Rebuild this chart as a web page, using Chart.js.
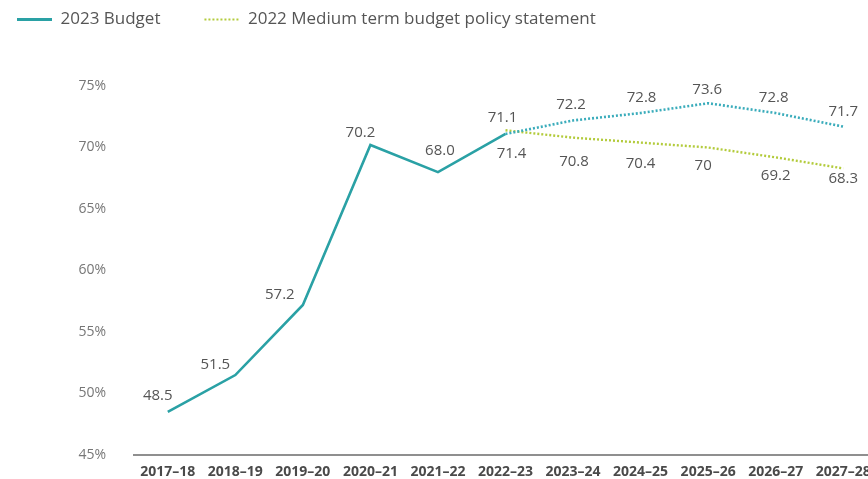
<!DOCTYPE html>
<html><head><meta charset="utf-8">
<script src="https://cdn.jsdelivr.net/npm/chart.js@4.4.1/dist/chart.umd.min.js"></script>
<style>
html,body{margin:0;padding:0;background:#fff;overflow:hidden;width:868px;height:479px;}
#wrap{position:absolute;left:0;top:0;width:877px;height:479px;}
</style></head><body>
<div id="wrap"><canvas id="c"></canvas></div>
<script>
const categories = ['2017–18','2018–19','2019–20','2020–21','2021–22','2022–23','2023–24','2024–25','2025–26','2026–27','2027–28'];
const budget2023 = [48.5, 51.5, 57.2, 70.2, 68.0, 71.1, 72.2, 72.8, 73.6, 72.8, 71.7];
const mtbps2022 = [null, null, null, null, null, 71.4, 70.8, 70.4, 70, 69.2, 68.3];
const yTicks = [45, 50, 55, 60, 65, 70, 75];
const seriesNames = ['2023 Budget', '2022 Medium term budget policy statement'];

const TEAL = '#2aa1a5';
const TEAL_DOT = '#3aacbb';
const GREEN = '#b3cb3c';
const PROJ_START = 5;

const labelOffsets = [
  [[-10,-16],[-20,-10],[-23,-10],[-10,-12],[2,-21],[-3,-16],[-2,-16],[1,-15],[-1,-13],[-2,-15],[0,-15]],
  [null,null,null,null,null,[6,23],[1,24],[0,21],[-5,18],[0,18],[0,10]]
];

const valueLabels = {
  id: 'valueLabels',
  afterDatasetsDraw(chart) {
    const ctx = chart.ctx;
    ctx.save();
    ctx.font = '15px "Open Sans", sans-serif';
    ctx.fillStyle = '#555';
    ctx.textAlign = 'center';
    ctx.textBaseline = 'middle';
    chart.data.datasets.forEach((ds, di) => {
      const meta = chart.getDatasetMeta(di);
      meta.data.forEach((pt, i) => {
        const v = ds.data[i];
        if (v === null || v === undefined) return;
        const off = labelOffsets[di][i] || [0, di === 0 ? -16 : 20];
        const txt = di === 0 ? v.toFixed(1) : String(v);
        ctx.fillText(txt, pt.x + off[0], pt.y + off[1]);
      });
    });
    ctx.restore();
  }
};

const legendSpace = {
  id: 'legendSpace',
  beforeInit(chart) {
    const lg = chart.legend;
    const origFit = lg.fit;
    lg.fit = function() {
      origFit.bind(lg)();
      this.height = 119;
    };
  }
};

const legendLineStyles = [
  { lineWidth: 3, lineDash: [], color: TEAL },
  { lineWidth: 2, lineDash: [2, 2], color: GREEN }
];

new Chart(document.getElementById('c'), {
  type: 'line',
  data: {
    labels: categories,
    datasets: [
      {
        label: seriesNames[0],
        data: budget2023,
        borderColor: TEAL,
        backgroundColor: TEAL,
        borderWidth: 2.6,
        pointRadius: 0,
        tension: 0,
        segment: {
          borderDash: c => c.p0DataIndex >= PROJ_START ? [2, 2] : undefined,
          borderColor: c => c.p0DataIndex >= PROJ_START ? TEAL_DOT : TEAL
        }
      },
      {
        label: seriesNames[1],
        data: mtbps2022,
        borderColor: GREEN,
        backgroundColor: GREEN,
        borderWidth: 2.4,
        borderDash: [2, 2],
        pointRadius: 0,
        tension: 0,
        spanGaps: false
      }
    ]
  },
  options: {
    responsive: true,
    maintainAspectRatio: false,
    animation: false,
    layout: { padding: { left: -27, top: -33, right: 0, bottom: 0 } },
    plugins: {
      legend: {
        display: true,
        position: 'top',
        align: 'start',
        labels: {
          usePointStyle: true,
          pointStyle: 'line',
          pointStyleWidth: 35,
          boxHeight: 17,
          padding: 44,
          color: '#555',
          font: { family: '"Open Sans", sans-serif', size: 17 },
          generateLabels(chart) {
            const items = Chart.defaults.plugins.legend.labels.generateLabels(chart);
            items.forEach((it, i) => {
              const st = legendLineStyles[i];
              it.lineWidth = st.lineWidth;
              it.lineDash = st.lineDash;
              it.strokeStyle = st.color;
              it.fillStyle = st.color;
              it.pointStyle = 'line';
            });
            return items;
          }
        }
      },
      tooltip: { enabled: false }
    },
    scales: {
      x: {
        type: 'category',
        offset: true,
        grid: { display: false, drawTicks: false },
        border: { display: true, color: '#8f8f8f', width: 2 },
        ticks: {
          autoSkip: false,
          maxRotation: 0,
          padding: 9,
          color: '#4a4a4a',
          font: { family: '"Liberation Sans Narrow", "Open Sans", sans-serif', size: 14, weight: 'bold' }
        },
        afterFit(s) { s.height = 24; s.paddingLeft = 0; s.paddingRight = 0; }
      },
      y: {
        min: 45,
        max: 75,
        grid: { display: false, drawTicks: false },
        border: { display: false },
        afterBuildTicks(s) { s.ticks = yTicks.map(v => ({ value: v })); },
        ticks: {
          padding: 28,
          color: '#777',
          font: { family: '"Open Sans", sans-serif', size: 14 },
          callback: v => v + '%'
        },
        afterFit(s) { s.width = 161; s.paddingTop = 0; s.paddingBottom = 0; }
      }
    }
  },
  plugins: [valueLabels, legendSpace]
});
</script>
</body></html>
